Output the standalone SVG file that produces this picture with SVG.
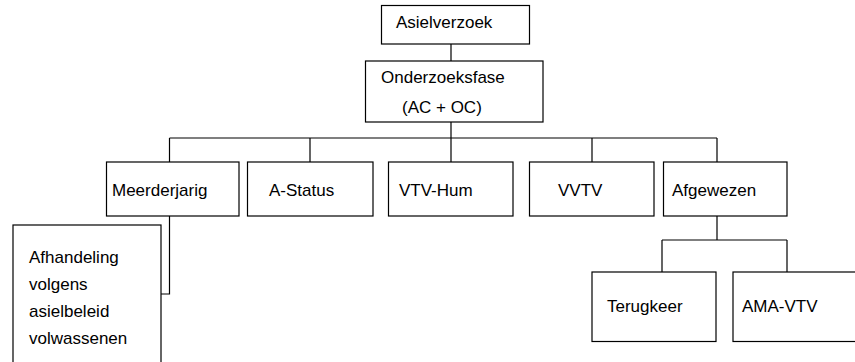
<svg xmlns="http://www.w3.org/2000/svg" width="855" height="362" viewBox="0 0 855 362">
<style>
.box{fill:#fff;stroke:#000;stroke-width:1.2}
.ln{fill:none;stroke:#000;stroke-width:1.2}
text{font-family:"Liberation Sans",Arial,sans-serif;font-size:17px;fill:#000}
</style>
<rect width="855" height="362" fill="#fff"/>
<g id="connectors">
<path class="ln" d="M451 44V61M451 122V162M169.5 138H717M169.5 138V162M310 138V162M592 138V162M717 138V162M169.5 216V294H161M717 216V240M662 240H787M662 240V272M787 240V272"/>
</g>
<g id="n-asielverzoek"><rect class="box" x="381.5" y="5.5" width="148" height="38.5"/><text x="396" y="28">Asielverzoek</text></g>
<g id="n-onderzoeksfase"><rect class="box" x="365.5" y="61" width="177.5" height="61"/><text x="381" y="83">Onderzoeksfase</text><text x="402" y="113">(AC + OC)</text></g>
<g id="n-meerderjarig"><rect class="box" x="106.5" y="162" width="132.5" height="54"/><text x="112" y="196">Meerderjarig</text></g>
<g id="n-astatus"><rect class="box" x="247.5" y="162" width="125.5" height="54"/><text x="269" y="196">A-Status</text></g>
<g id="n-vtvhum"><rect class="box" x="388.5" y="162" width="124.5" height="54"/><text x="399" y="196">VTV-Hum</text></g>
<g id="n-vvtv"><rect class="box" x="529.5" y="162" width="124.5" height="54"/><text x="558" y="196">VVTV</text></g>
<g id="n-afgewezen"><rect class="box" x="663.5" y="162" width="123.5" height="54"/><text x="672" y="196">Afgewezen</text></g>
<g id="n-afhandeling"><rect class="box" x="13" y="225" width="148" height="150"/><text x="29" y="263">Afhandeling</text><text x="29" y="290">volgens</text><text x="29" y="317">asielbeleid</text><text x="29" y="344">volwassenen</text></g>
<g id="n-terugkeer"><rect class="box" x="592" y="272" width="124" height="69.5"/><text x="607" y="312">Terugkeer</text></g>
<g id="n-amavtv"><rect class="box" x="733" y="272" width="140" height="69.5"/><text x="742" y="312">AMA-VTV</text></g>
</svg>
